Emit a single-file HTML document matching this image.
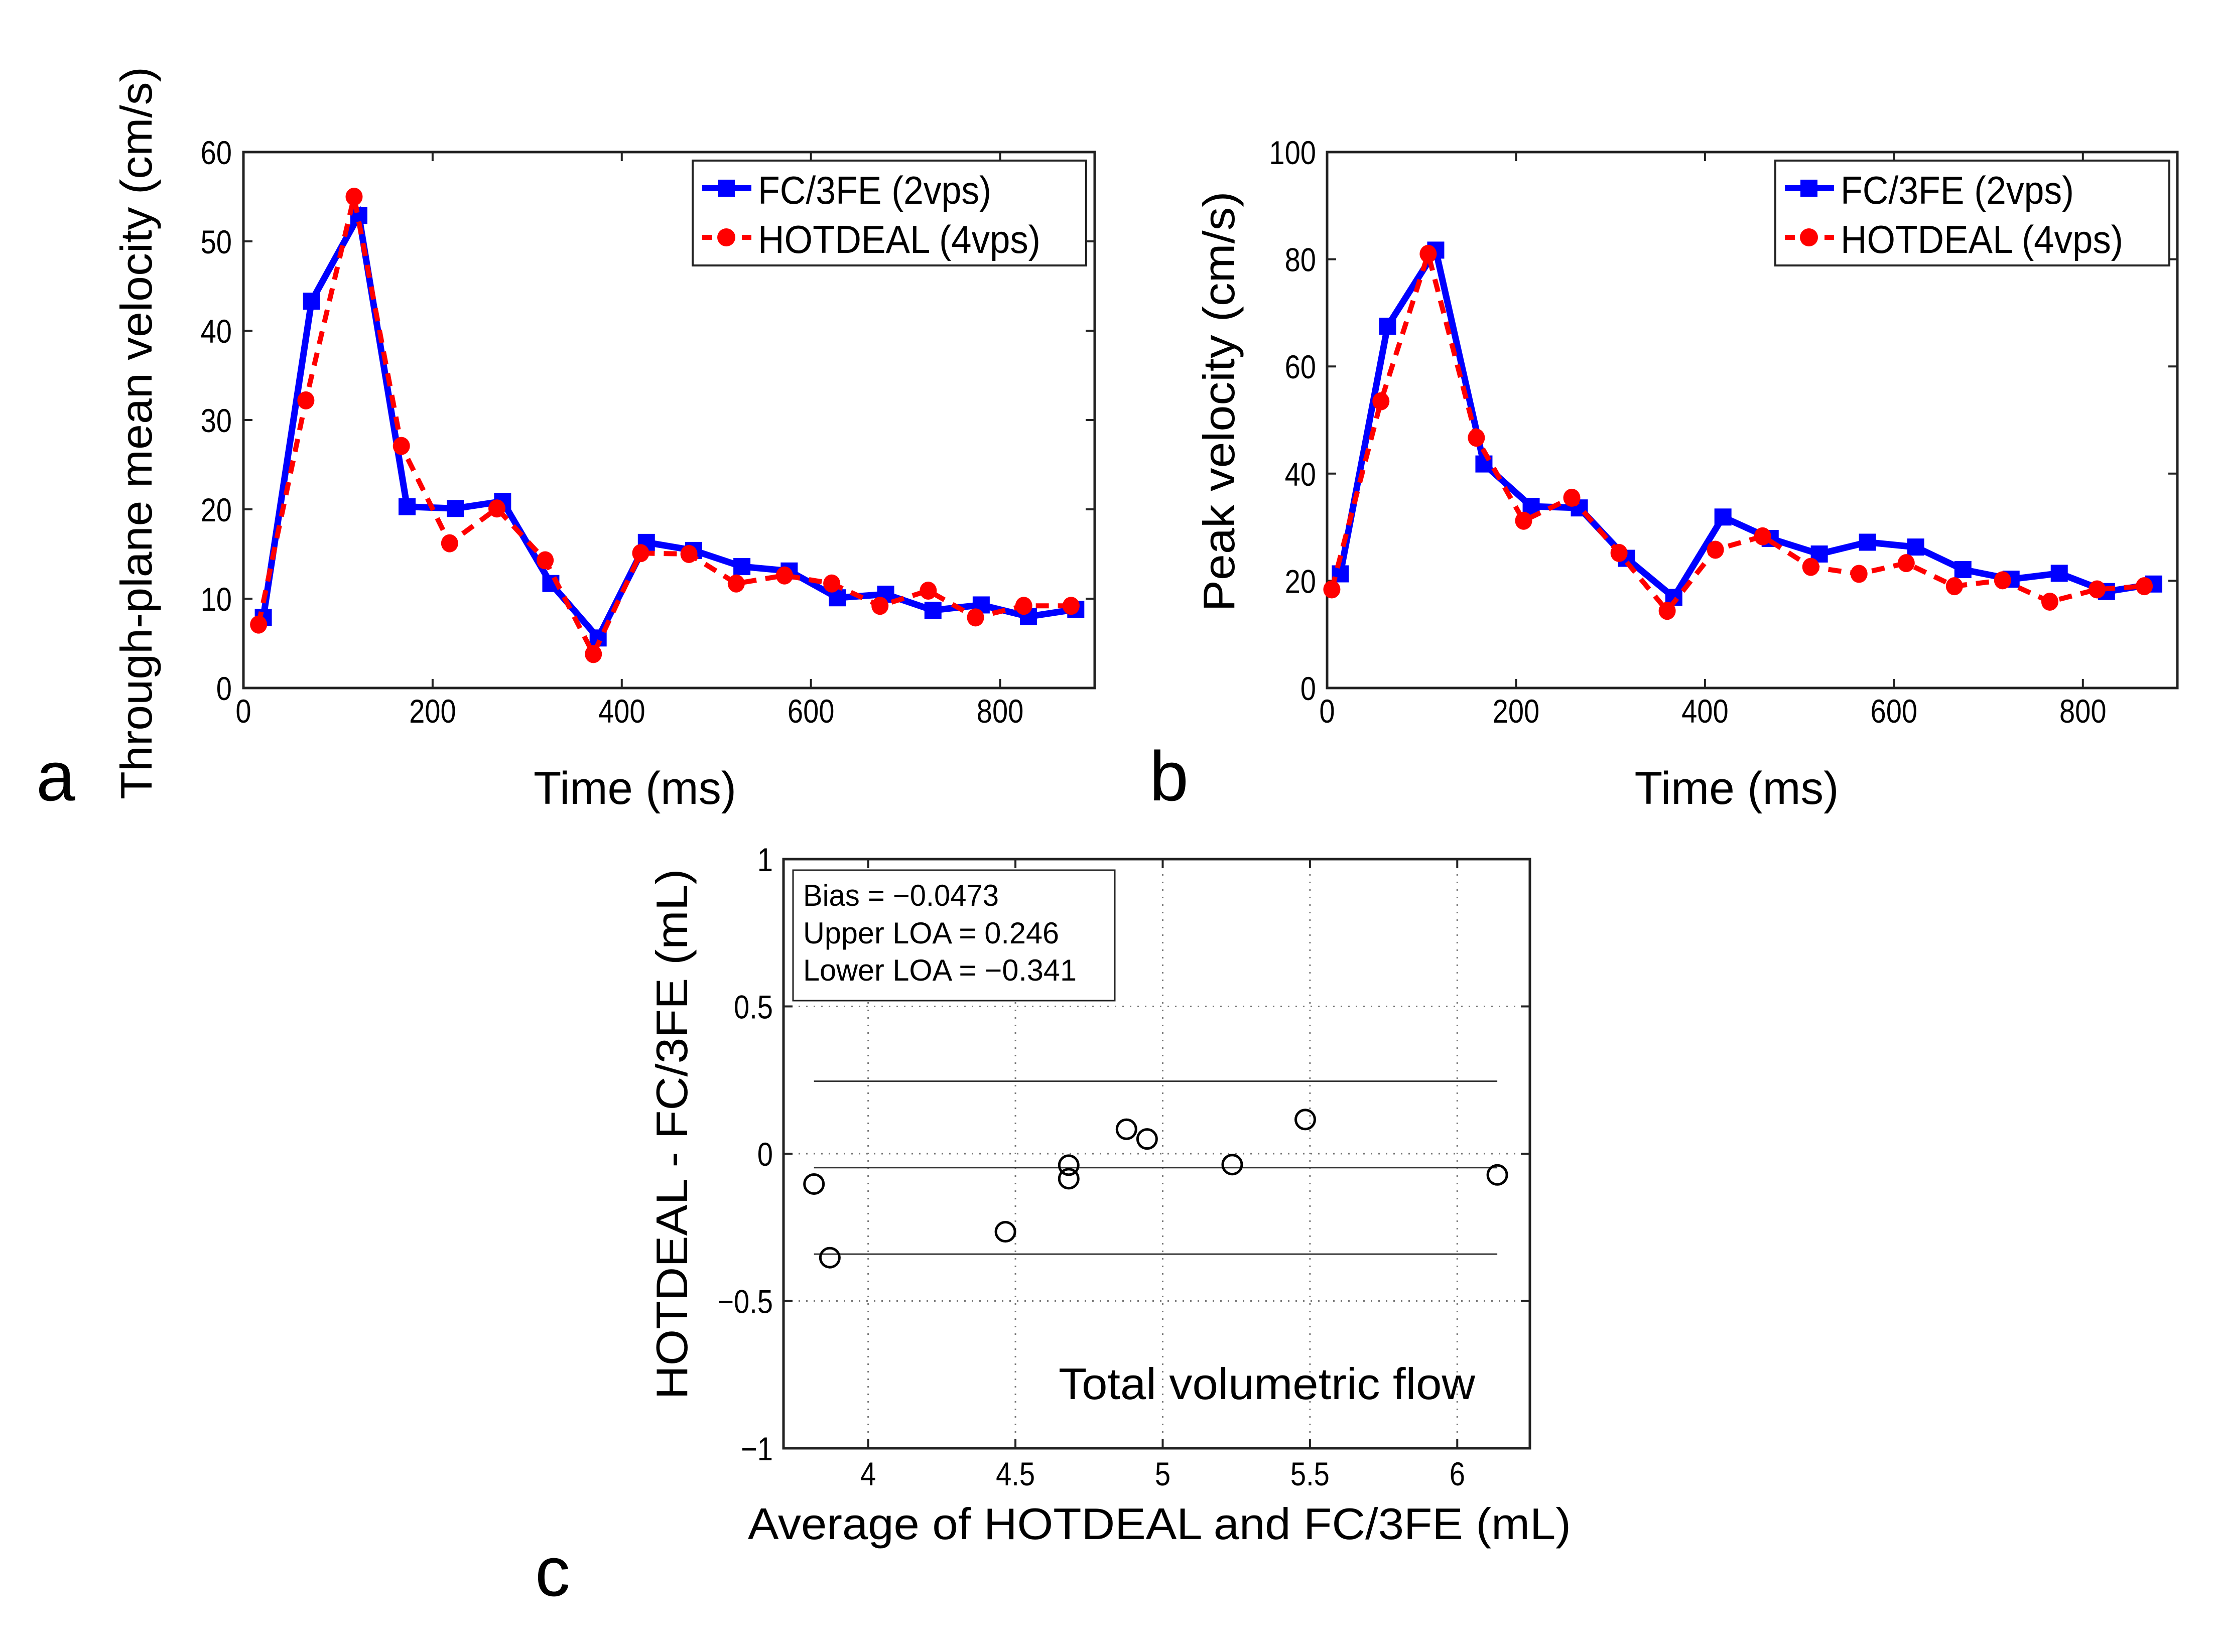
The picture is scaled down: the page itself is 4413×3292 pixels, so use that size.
<!DOCTYPE html>
<html><head><meta charset="utf-8"><style>
html,body{margin:0;padding:0;background:#fff;}
svg{display:block;font-family:"Liberation Sans",sans-serif;}
</style></head><body>
<svg id="fig" width="4413" height="3292" viewBox="0 0 4413 3292" xmlns="http://www.w3.org/2000/svg">
<rect width="4413" height="3292" fill="#fff"/>
</svg>
<script>
// Panel a data
const aFcTime=[21,72,122,173,224,274,325,375,426,476,527,577,628,679,729,780,830,880];
const aFcVal=[7.9,43.3,52.9,20.3,20.1,20.9,11.7,5.6,16.3,15.4,13.6,13.1,10.1,10.5,8.7,9.3,8.0,8.8];
const aHdTime=[16,66,117,167,218,268,319,370,420,471,521,572,622,673,724,774,825,875];
const aHdVal=[7.1,32.2,55,27.1,16.2,20.1,14.3,3.8,15.1,15.0,11.7,12.6,11.7,9.2,10.9,7.9,9.2,9.2];
const aXTicks=[0,200,400,600,800];
const aYTicks=[0,10,20,30,40,50,60];
// Panel b data
const bFcTime=[14,64,115,166,216,267,317,367,419,469,521,572,623,673,724,775,825,875];
const bFcVal=[21.3,67.5,81.7,41.8,33.9,33.6,24.2,16.9,31.9,27.9,25.0,27.2,26.3,22.1,20.3,21.4,18.0,19.4];
const bHdTime=[5,57,107,158,208,259,309,360,411,461,512,563,613,664,715,765,815,865];
const bHdVal=[18.4,53.5,81.0,46.7,31.2,35.5,25.2,14.4,25.8,28.3,22.6,21.3,23.3,19.0,20.1,16.1,18.4,19.0];
const bXTicks=[0,200,400,600,800];
const bYTicks=[0,20,40,60,80,100];
// Panel c data
const cMean=[3.816,3.870,4.466,4.681,4.681,4.877,4.947,5.236,5.484,6.136];
const cDiff=[-0.103,-0.353,-0.265,-0.039,-0.085,0.083,0.050,-0.037,0.116,-0.072];
const cLimits=[0.246,-0.0473,-0.341];
const cXTicks=[4,4.5,5,5.5,6];
const cYTicks=[-1,-0.5,0,0.5,1];
const cYTickLabels=["\u22121","\u22120.5","0","0.5","1"];

const NS="http://www.w3.org/2000/svg";
const svg=document.getElementById('fig');
function mk(tag,attrs,parent){const e=document.createElementNS(NS,tag);for(const k in attrs)e.setAttribute(k,attrs[k]);(parent||svg).appendChild(e);return e;}
function txt(s,attrs,parent){const e=mk('text',attrs,parent);e.textContent=s;return e;}

function axes(name,L,R,T,B,x0,x1,y0,y1,xt,yt,ytl,grid,yLabRight,xLabBase){
  const g=mk('g',{});
  
  
  const sx=v=>L+(v-x0)/(x1-x0)*(R-L), sy=v=>B-(v-y0)/(y1-y0)*(B-T);
  if(grid){
    xt.forEach(v=>{const l=mk('line',{x1:sx(v),x2:sx(v),y1:T,y2:B,stroke:'#777','stroke-width':3,'stroke-dasharray':'3 12'},g);});
    yt.forEach(v=>{const l=mk('line',{x1:L,x2:R,y1:sy(v),y2:sy(v),stroke:'#777','stroke-width':3,'stroke-dasharray':'3 12'},g);});
  }
  const box=mk('rect',{x:L,y:T,width:R-L,height:B-T,fill:'none',stroke:'#222','stroke-width':5},g);
  
  
  xt.forEach(v=>{const x=sx(v);
    mk('line',{x1:x,x2:x,y1:B,y2:B-18,stroke:'#222','stroke-width':4},g);
    mk('line',{x1:x,x2:x,y1:T,y2:T+18,stroke:'#222','stroke-width':4},g);
    const t=txt(String(v),{x:0,y:0,'font-size':66,'text-anchor':'middle',fill:'#000',transform:'translate('+x+','+xLabBase+') scale(0.85,1)'},g);
    
    
  });
  yt.forEach((v,i)=>{const y=sy(v);
    mk('line',{x1:L,x2:L+18,y1:y,y2:y,stroke:'#222','stroke-width':4},g);
    mk('line',{x1:R,x2:R-18,y1:y,y2:y,stroke:'#222','stroke-width':4},g);
    const t=txt(ytl?ytl[i]:String(v),{x:0,y:0,'font-size':66,'text-anchor':'end',fill:'#000',transform:'translate('+yLabRight+','+(y+24)+') scale(0.85,1)'},g);
    
    
  });
  return {sx,sy,g};
}

function series(ax,xs,ys,kind,name){
  const g=mk('g',{});
  
  
  const pts=xs.map((x,i)=>ax.sx(x)+','+ax.sy(ys[i])).join(' ');
  if(kind==='fc'){
    mk('polyline',{points:pts,fill:'none',stroke:'#0000ff','stroke-width':13,'stroke-linejoin':'miter'},g);
    xs.forEach((x,i)=>{const r=mk('rect',{x:ax.sx(x)-17,y:ax.sy(ys[i])-17,width:34,height:34,fill:'#0000ff'},g);
      });
  }else{
    mk('polyline',{points:pts,fill:'none',stroke:'#ff0000','stroke-width':10,'stroke-dasharray':'26 18'},g);
    xs.forEach((x,i)=>{const c=mk('ellipse',{cx:ax.sx(x),cy:ax.sy(ys[i]),rx:17,ry:18,fill:'#ff0000'},g);
      });
  }
}

function legend(x,y,w,name){
  const g=mk('g',{});
  
  
  mk('rect',{x:x,y:y,width:w,height:209,fill:'#fff',stroke:'#222','stroke-width':4},g);
  mk('line',{x1:x+19,x2:x+117,y1:y+55,y2:y+55,stroke:'#0000ff','stroke-width':12},g);
  mk('rect',{x:x+50,y:y+38,width:34,height:34,fill:'#0000ff'},g);
  mk('line',{x1:x+19,x2:x+117,y1:y+153,y2:y+153,stroke:'#ff0000','stroke-width':10,'stroke-dasharray':'20 59'},g);
  mk('circle',{cx:x+67,cy:y+153,r:18,fill:'#ff0000'},g);
  const t1=txt('FC/3FE (2vps)',{x:x+130,y:y+86,'font-size':78,textLength:465,lengthAdjust:'spacingAndGlyphs'},g);
  
  
  const t2=txt('HOTDEAL (4vps)',{x:x+130,y:y+184,'font-size':78,textLength:563,lengthAdjust:'spacingAndGlyphs'},g);
  
  
}

function label(s,attrs,name){const t=txt(s,attrs);return t;}

// Panel a
const A=axes('panel-a-axes',485,2181,303,1371,0,900,0,60,aXTicks,aYTicks,null,false,462,1440);
series(A,aFcTime,aFcVal,'fc','panel-a-fc3fe-series');
series(A,aHdTime,aHdVal,'hd','panel-a-hotdeal-series');
legend(1380,320,784,'panel-a-legend');
label('Through-plane mean velocity (cm/s)',{x:0,y:0,'font-size':88,textLength:1460,lengthAdjust:'spacingAndGlyphs',transform:'translate(302,863) rotate(-90)','text-anchor':'middle'},'panel-a-y-axis-title');
label('Time (ms)',{x:1265,y:1602,'font-size':92,textLength:404,lengthAdjust:'spacingAndGlyphs','text-anchor':'middle'},'panel-a-x-axis-title');
label('a',{x:72,y:1595,'font-size':140},'panel-a-label');

// Panel b
const Bx=axes('panel-b-axes',2644,4338,303,1371,0,900,0,100,bXTicks,bYTicks,null,false,2622,1440);
series(Bx,bFcTime,bFcVal,'fc','panel-b-fc3fe-series');
series(Bx,bHdTime,bHdVal,'hd','panel-b-hotdeal-series');
legend(3537,320,785,'panel-b-legend');
label('Peak velocity  (cm/s)',{x:0,y:0,'font-size':88,textLength:837,lengthAdjust:'spacingAndGlyphs',transform:'translate(2459,800) rotate(-90)','text-anchor':'middle','xml:space':'preserve'},'panel-b-y-axis-title');
label('Time (ms)',{x:3460,y:1602,'font-size':92,textLength:407,lengthAdjust:'spacingAndGlyphs','text-anchor':'middle'},'panel-b-x-axis-title');
label('b',{x:2290,y:1595,'font-size':140},'panel-b-label');

// Panel c
const C=axes('panel-c-axes',1561,3048,1712,2886,3.7126,6.2466,-1,1,cXTicks,cYTicks,cYTickLabels,true,1540,2960);
const cg=mk('g',{});


const cxMin=Math.min(...cMean), cxMax=Math.max(...cMean);
cLimits.forEach(v=>{mk('line',{x1:C.sx(cxMin),x2:C.sx(cxMax),y1:C.sy(v),y2:C.sy(v),stroke:'#333','stroke-width':3},cg);});
cMean.forEach((m,i)=>{const c=mk('ellipse',{cx:C.sx(m),cy:C.sy(cDiff[i]),rx:19,ry:19,fill:'none',stroke:'#000','stroke-width':5});
  
  });
const sb=mk('g',{});


mk('rect',{x:1580,y:1734,width:641,height:260,fill:'#fff',stroke:'#222','stroke-width':3},sb);
txt('Bias = \u22120.0473',{x:1600,y:1805,'font-size':60,textLength:390,lengthAdjust:'spacingAndGlyphs'},sb);
txt('Upper LOA = 0.246',{x:1600,y:1880,'font-size':60,textLength:510,lengthAdjust:'spacingAndGlyphs'},sb);
txt('Lower LOA = \u22120.341',{x:1600,y:1954,'font-size':60,textLength:545,lengthAdjust:'spacingAndGlyphs'},sb);
label('Total volumetric flow',{x:2109,y:2788,'font-size':88,textLength:830,lengthAdjust:'spacingAndGlyphs'},'panel-c-annotation');
label('HOTDEAL - FC/3FE (mL)',{x:0,y:0,'font-size':88,textLength:1057,lengthAdjust:'spacingAndGlyphs',transform:'translate(1369,2260) rotate(-90)','text-anchor':'middle'},'panel-c-y-axis-title');
label('Average of HOTDEAL and FC/3FE (mL)',{x:1490,y:3067,'font-size':88,textLength:1640,lengthAdjust:'spacingAndGlyphs'},'panel-c-x-axis-title');
label('c',{x:1066,y:3180,'font-size':140},'panel-c-label');
</script>
</body></html>
